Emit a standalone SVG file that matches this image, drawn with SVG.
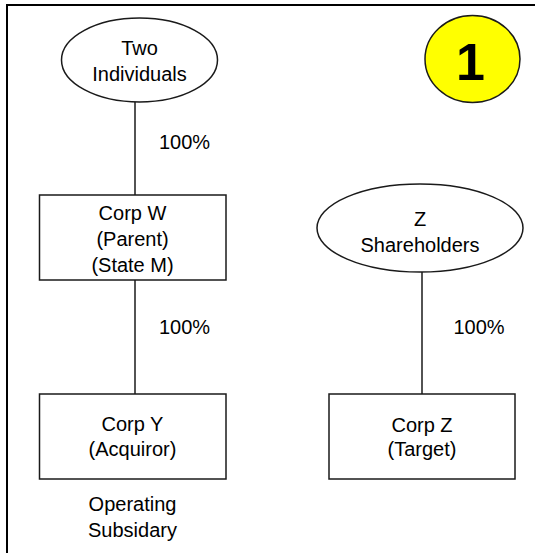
<svg xmlns="http://www.w3.org/2000/svg" width="535" height="553" viewBox="0 0 535 553">
<style>
.shape{fill:#fff;stroke:#1a1a1a;stroke-width:1.5}
.conn{stroke:#1a1a1a;stroke-width:1.5;fill:none}
text{font-family:"Liberation Sans",Arial,sans-serif;font-size:20px;fill:#000;text-anchor:middle}
</style>
<rect x="0" y="0" width="535" height="553" fill="#fff"/>
<rect x="7" y="5" width="545" height="565" fill="none" stroke="#000" stroke-width="2"/>
<g id="connectors">
<line class="conn" x1="135" y1="102" x2="135" y2="195"/>
<line class="conn" x1="135" y1="280" x2="135" y2="394"/>
<line class="conn" x1="422" y1="272" x2="422" y2="394"/>
<text x="184.5" y="149">100%</text>
<text x="184.5" y="334">100%</text>
<text x="479" y="334">100%</text>
</g>
<g id="two-individuals">
<ellipse class="shape" cx="139.5" cy="60" rx="78" ry="42"/>
<text x="139.5" y="54.5">Two</text>
<text x="139.5" y="80.5">Individuals</text>
</g>
<g id="badge">
<ellipse cx="472.5" cy="59" rx="47.5" ry="43.5" fill="#ffff00" stroke="#1a1a1a" stroke-width="1.5"/>
<text x="470.5" y="80" style="font-size:52px;font-weight:bold">1</text>
</g>
<g id="corp-w">
<rect class="shape" x="39.5" y="195" width="186.5" height="85"/>
<text x="132.5" y="219.5">Corp W</text>
<text x="132.5" y="246">(Parent)</text>
<text x="132.5" y="272">(State M)</text>
</g>
<g id="z-shareholders">
<ellipse class="shape" cx="420" cy="228" rx="103" ry="44"/>
<text x="420" y="225.5">Z</text>
<text x="420" y="251.5">Shareholders</text>
</g>
<g id="corp-y">
<rect class="shape" x="39.5" y="394" width="186.5" height="85"/>
<text x="132.5" y="430.5">Corp Y</text>
<text x="132.5" y="456">(Acquiror)</text>
</g>
<g id="corp-z">
<rect class="shape" x="329" y="394" width="186" height="85"/>
<text x="422" y="431.5">Corp Z</text>
<text x="422" y="456">(Target)</text>
</g>
<g id="operating-subsidary">
<text x="132.5" y="510.5">Operating</text>
<text x="132.5" y="536.5">Subsidary</text>
</g>
</svg>
